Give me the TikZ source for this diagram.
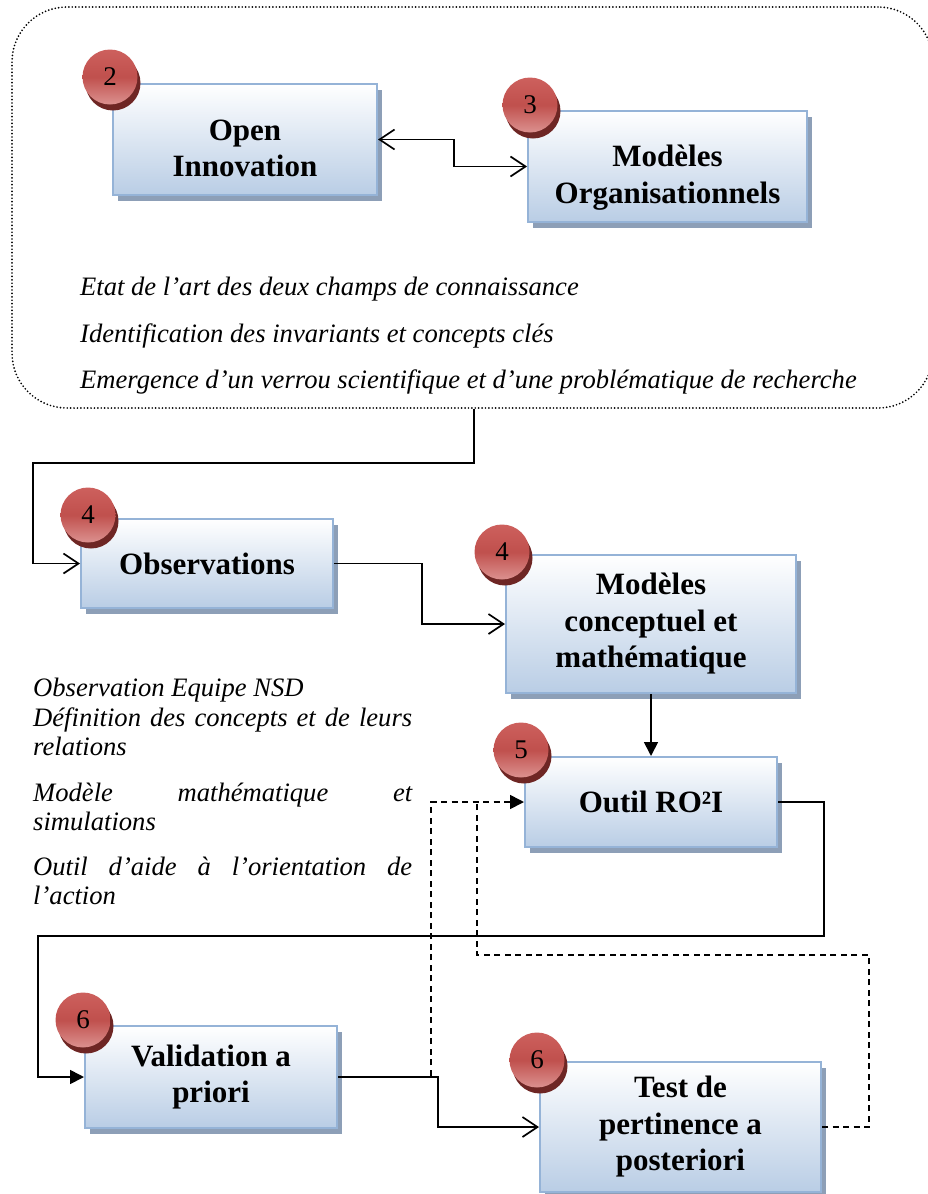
\documentclass[tikz,border=0pt]{standalone}
\usepackage{fontspec}
\setmainfont{Liberation Serif}
\usetikzlibrary{arrows.meta,shadows,calc}
\definecolor{boxborder}{HTML}{95B3D7}
\definecolor{boxbottom}{HTML}{B9CDE5}
\definecolor{boxshadow}{HTML}{8D9FB7}
\definecolor{badgetop}{HTML}{CD605D}
\definecolor{badgemid}{HTML}{C0504D}
\definecolor{badgebot}{HTML}{DC918F}
\definecolor{badgeshadow}{HTML}{6E2624}
\newcommand\bxfnt{\fontsize{31}{36.5}\selectfont\bfseries}
\newcommand\itfnt{\fontsize{26.6}{30}\selectfont\itshape}
\newcommand\bdgfnt{\fontsize{27}{30}\selectfont}
\begin{document}
\begin{tikzpicture}[x=1pt,y=-1pt,
  stepbox/.style={rectangle, draw=boxborder, line width=2pt, top color=white, bottom color=boxbottom,
    drop shadow={shadow xshift=5pt, shadow yshift=-6pt, fill=boxshadow, opacity=1},
    align=center, font=\bxfnt, inner sep=0pt},
  bxtext/.style={align=center, font=\bxfnt, inner sep=0pt},
  badge/.style={circle, minimum size=55pt, inner sep=0pt, shading=axis, top color=badgetop, bottom color=badgebot, middle color=badgemid,
    drop shadow={shadow xshift=3pt, shadow yshift=-6pt, fill=badgeshadow, opacity=1}, font=\bdgfnt},
  conn/.style={line width=1.7pt},
  barb/.style={-{Straight Barb[length=15pt,width=20pt]}},
  tri/.style={-{Triangle[length=14pt,width=14pt]}},
  dsh/.style={dash pattern=on 6pt off 4.5pt},
  itx/.style={font=\itfnt, anchor=base west, inner sep=0pt}
]
\useasboundingbox (0,0) rectangle (927,1194);
% phase 1 dotted frame
\node[draw, line width=1.9pt, line cap=round, dash pattern=on 0pt off 3.4pt, rounded corners=55pt,
  minimum width=921pt, minimum height=401pt, inner sep=0pt] (phase) at (472.5,207.5) {};

% boxes
\node[stepbox, minimum width=264pt, minimum height=111pt] (b2) at (245,139.5) {};
\node[bxtext] (b2t) at ([yshift=-9pt]b2.center) {Open\\Innovation};
\node[stepbox, minimum width=279pt, minimum height=111pt] (b3) at (667.5,166.5) {};
\node[bxtext] (b3t) at ([yshift=-11pt]b3.center) {Modèles\\Organisationnels};
\node[stepbox, minimum width=252pt, minimum height=89pt] (obs) at (207,563.5) {Observations};
\node[stepbox, minimum width=290pt, minimum height=138pt] (mcm) at (651,624) {Modèles\\conceptuel et\\mathématique};
\node[stepbox, minimum width=252pt, minimum height=90pt] (outil) at (651,802) {Outil RO²I};
\node[stepbox, minimum width=252pt, minimum height=102pt] (valid) at (211,1077) {Validation a\\priori};
\node[stepbox, minimum width=281pt, minimum height=130pt] (test) at (680.5,1127) {Test de\\pertinence a\\posteriori};

% badges
\node[badge] (n2) at (110,77) {2};
\node[badge] (n3) at (530,105) {3};
\node[badge] (n4a) at (88,515) {4};
\node[badge] (n4b) at (502,552) {4};
\node[badge] (n5) at (521,750) {5};
\node[badge] (n6a) at (83,1020) {6};
\node[badge] (n6b) at (537,1060) {6};

% connectors
\draw[conn, {Straight Barb[length=15pt,width=20pt]}-{Straight Barb[length=15pt,width=20pt]}] (b2.east) -- ++(76,0) |- (b3.west);
\draw[conn, barb] ([xshift=1.5pt]phase.south) |- (33,463) |- (obs.west);
\draw[conn, barb] (obs.east) -| (422,600) |- (mcm.west);
\draw[conn, tri] (mcm.south) -- (outil.north);
\draw[conn, tri] (outil.east) -| (824,936) -- (38,936) |- (valid.west);
\draw[conn, dsh, tri] (valid.east) -| (431,900) |- (outil.west);
\coordinate (join) at (477,802);
\draw[conn, dsh] (test.east) -| (869,955) -| (join);
\draw[conn, barb] (valid.east) -| (438,1100) |- (test.west);

% texts
\node[itx] (e1) at (80,295) {Etat de l’art des deux champs de connaissance};
\node[itx] (e2) at (80,342) {Identification des invariants et concepts clés};
\node[itx] (e3) at (80,388) {Emergence d’un verrou scientifique et d’une problématique de recherche};

\node[itx] (o1) at (33,696) {Observation Equipe NSD};
\node[itx] (o2) at (33,726) {\makebox[379pt][s]{Définition des concepts et de leurs}};
\node[itx] (o3) at (33,755) {relations};
\node[itx] (o4) at (33,801) {\makebox[379pt][s]{Modèle mathématique et}};
\node[itx] (o5) at (33,830) {simulations};
\node[itx] (o6) at (33,875) {\makebox[379pt][s]{Outil d’aide à l’orientation de}};
\node[itx] (o7) at (33,904) {l’action};
\end{tikzpicture}
\end{document}
